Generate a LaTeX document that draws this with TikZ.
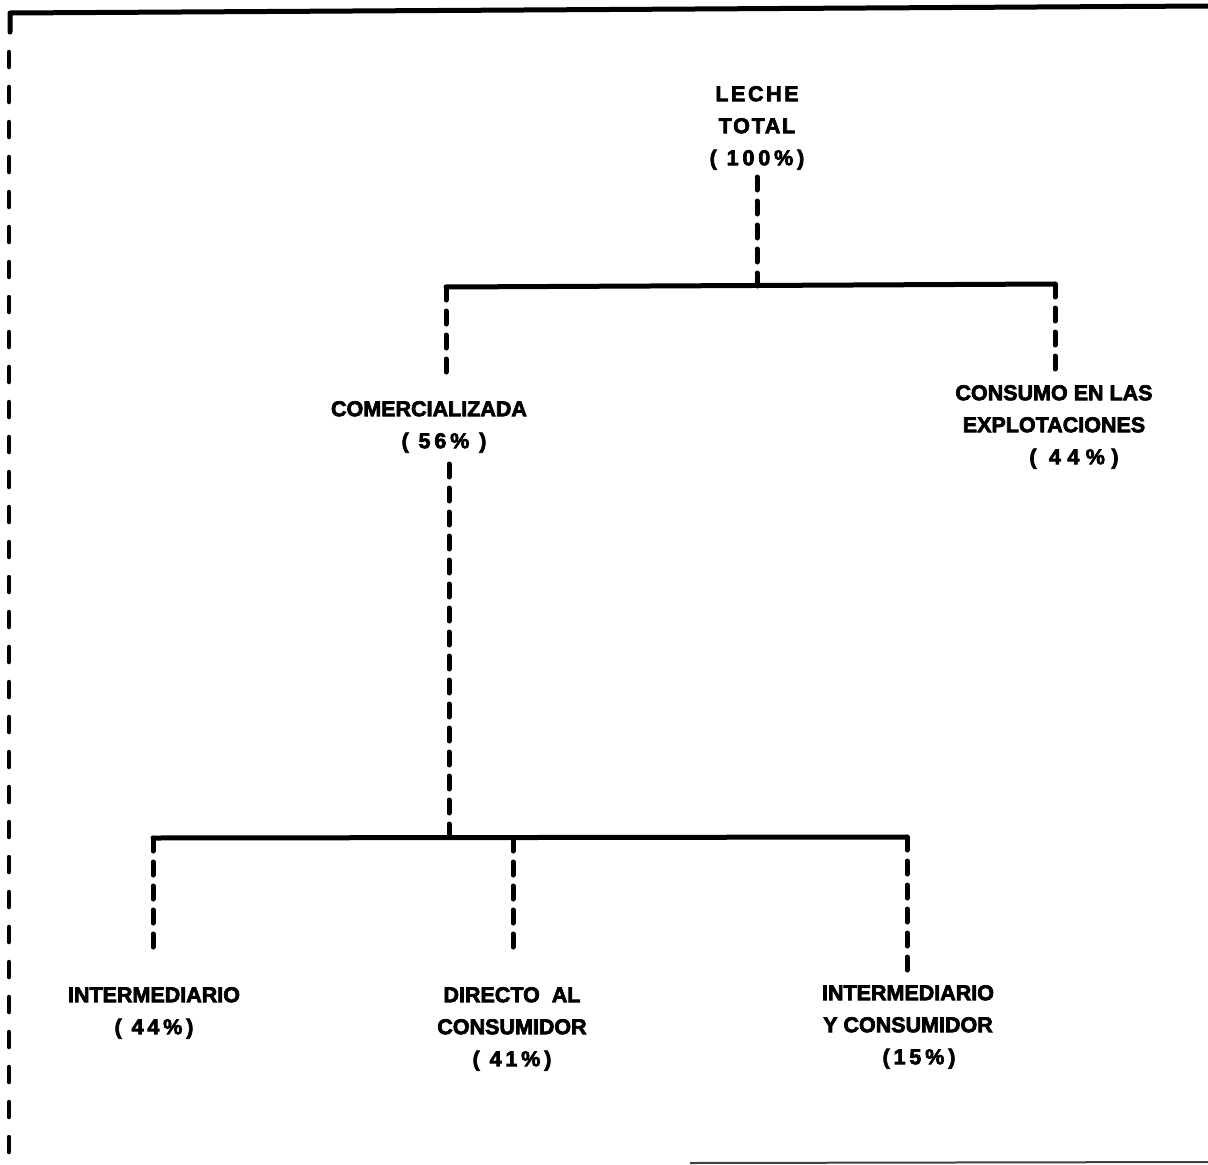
\documentclass[tikz,border=0pt]{standalone}
\usepackage{fontspec}
\usetikzlibrary{calc}
\setmainfont{Liberation Sans}[BoldFeatures={FakeBold=3.2}]
\newcommand{\spc}[2]{{\addfontfeatures{LetterSpace=#1}#2}}
\begin{document}
\begin{tikzpicture}[x=1pt,y=-1pt,
  lbl/.style={inner sep=0pt, align=center, anchor=north, font=\bfseries\fontsize{21.5}{32}\selectfont},
  solidline/.style={line width=5pt, line cap=round, line join=round},
  dashline/.style={line width=5pt, line cap=round, dash pattern=on 13pt off 11pt},
  borderdash/.style={line width=4.5pt, line cap=round, dash pattern=on 15pt off 20pt}]
\useasboundingbox (0,0) rectangle (1208,1165);
% frame
\coordinate (c0) at (10,13);
\coordinate (c1) at (1208,6);
\coordinate (c2) at (9,1165);
\coordinate (c3) at (10,32);
\coordinate (c4) at (9,52);
\coordinate (b0) at (690,1163);
\coordinate (b1) at (1208,1162);
\draw[solidline] (c1) -- (c0) -- (c3);
\draw[borderdash] (c4) -- (c2);
\draw[line width=2pt, black!75] (b0) -- (b1);
% labels
\node[lbl] (top) at (757,86) {\spc{12}{LECHE}\\\spc{8}{TOTAL}\\\spc{18}{( 100\%)}};
\node[lbl] (com) at (429,401) {COMERCIALIZADA\\\hspace*{30pt}\spc{18}{( 56\% )}};
\node[lbl] (con) at (1054,385) {CONSUMO EN LAS\\EXPLOTACIONES\hspace*{8pt}\\\hspace*{40pt}\spc{30}{( 44\%)}};
\node[lbl] (int) at (154,987) {INTERMEDIARIO\\\spc{18}{( 44\%)}};
\node[lbl] (dir) at (512,987) {DIRECTO\ \ AL\\CONSUMIDOR\\\spc{18}{( 41\%)}};
\node[lbl] (iyc) at (908,985) {INTERMEDIARIO\\Y CONSUMIDOR\\\hspace*{22pt}\spc{18}{(15\%)}};
% junctions
\coordinate (j1) at (757,286);
\coordinate (j1l) at (446,287);
\coordinate (j1r) at (1055,284);
\coordinate (j2) at (449,837);
\coordinate (j2l) at (153,838);
\coordinate (j2m) at (513,838);
\coordinate (j2r) at (907,837);
% connectors
\draw[dashline] (j1) -- ($(j1)!109pt!(top.south)$);
\draw[solidline] (j1l) -- (j1r);
\draw[dashline] (j1l) -- ($(j1l)!85pt!(com.north -| j1l)$);
\draw[dashline] (j1r) -- ($(j1r)!85pt!(con.north -| j1r)$);
\draw[dashline] (j2) -- ($(j2)!373pt!(com.south -| j2)$);
\draw[solidline] (j2l) -- (j2r);
\draw[dashline] (j2l) -- ($(j2l)!109pt!(int.north -| j2l)$);
\draw[dashline] (j2m) -- ($(j2m)!109pt!(dir.north -| j2m)$);
\draw[dashline] (j2r) -- ($(j2r)!133pt!(iyc.north -| j2r)$);
\end{tikzpicture}
\end{document}
